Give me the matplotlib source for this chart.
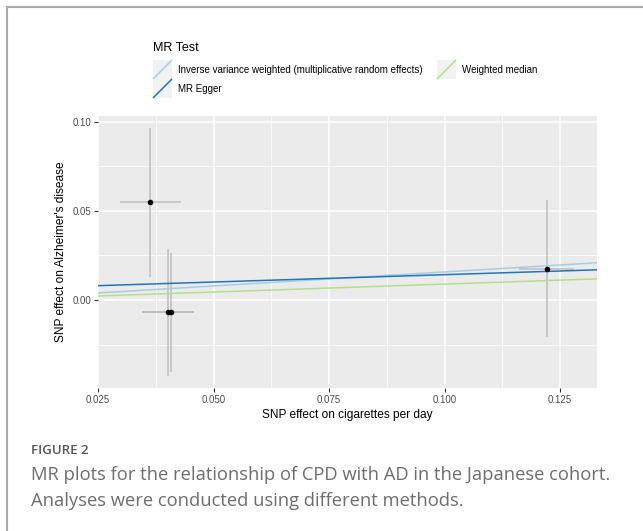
import matplotlib.pyplot as plt
import numpy as np
from matplotlib.lines import Line2D
from matplotlib.patches import Rectangle

# SNP-level estimates (exposure: cigarettes per day, outcome: AD)
snp_beta_exp = [0.0363, 0.0401, 0.0407, 0.1221]
snp_se_exp_lo = [0.0298, 0.0346, 0.0346, 0.1161]
snp_se_exp_hi = [0.0429, 0.0458, 0.0458, 0.1280]
snp_beta_out = [0.0547, -0.0068, -0.0068, 0.0176]
snp_out_lo = [0.0131, -0.0427, -0.0406, -0.0206]
snp_out_hi = [0.0965, 0.0285, 0.0262, 0.0558]

# MR method fits
methods = ["Inverse variance weighted (multiplicative random effects)",
           "MR Egger", "Weighted median"]
method_slope = [0.157, 0.0824, 0.089]
method_intercept = [0.0, 0.00594, 0.0]
method_colors = ["#a6cee3", "#1f78b4", "#b2df8a"]

x_ticks = [0.025, 0.050, 0.075, 0.100, 0.125]
y_ticks = [0.00, 0.05, 0.10]

W, H = 643, 531
fig = plt.figure(figsize=(W / 100, H / 100), dpi=100)
plt.rcParams['font.family'] = ['Liberation Sans', 'DejaVu Sans']

def fx(px):
    return px / W

def fy(py):
    return 1 - py / H

ax = fig.add_axes([fx(98), fy(388), fx(597) - fx(98), fy(116) - fy(388)])
ax.set_facecolor("#ebebeb")
for s in ax.spines.values():
    s.set_visible(False)

xlim = (0.025, 0.1330)
ylim = (-0.0494, 0.1032)
ax.set_xlim(*xlim)
ax.set_ylim(*ylim)

# grid
for v in [0.0375, 0.0625, 0.0875, 0.1125]:
    ax.axvline(v, color="white", lw=0.55, zorder=0)
for v in [-0.025, 0.025, 0.075]:
    ax.axhline(v, color="white", lw=0.55, zorder=0)
for v in x_ticks:
    ax.axvline(v, color="white", lw=1.1, zorder=0)
for v in y_ticks:
    ax.axhline(v, color="white", lw=1.1, zorder=0)

# error bars
for i in range(len(snp_beta_exp)):
    ax.plot([snp_beta_exp[i], snp_beta_exp[i]], [snp_out_lo[i], snp_out_hi[i]],
            color="#bebebe", lw=1.1, zorder=2, solid_capstyle="butt")
    ax.plot([snp_se_exp_lo[i], snp_se_exp_hi[i]], [snp_beta_out[i], snp_beta_out[i]],
            color="#bebebe", lw=1.1, zorder=2, solid_capstyle="butt")

# method lines
xs = np.array(xlim)
for slope, icpt, col in zip(method_slope, method_intercept, method_colors):
    ax.plot(xs, icpt + slope * xs, color=col, lw=1.1, zorder=3)

ax.scatter(snp_beta_exp, snp_beta_out, s=16, color="black", zorder=4, linewidths=0)

ax.set_xticks(x_ticks)
ax.set_xticklabels(["0.025", "0.050", "0.075", "0.100", "0.125"])
ax.set_yticks(y_ticks)
ax.set_yticklabels(["0.00", "0.05", "0.10"])
ax.tick_params(colors="#333333", labelcolor="#4d4d4d", labelsize=7, length=3, width=0.8, pad=2)
ax.set_xlabel("SNP effect on cigarettes per day", fontsize=8.6, labelpad=3)
ax.set_ylabel("SNP effect on Alzheimer's disease", fontsize=8.6, labelpad=4)

# legend drawn by hand (ggplot-style keys)
fig.text(fx(153), fy(48), "MR Test", fontsize=9, va="center", ha="left")
key_pos = [(153, 60), (153, 79), (437, 60)]
txt_pos = [(178, 70), (178, 89), (462, 70)]
for (kx, ky), (tx, ty), name, col in zip(key_pos, txt_pos, methods, method_colors):
    fig.add_artist(Rectangle((fx(kx), fy(ky + 19)), fx(19), 19 / H,
                             facecolor="#f2f2f2", edgecolor="none"))
    fig.add_artist(Line2D([fx(kx + 0.5), fx(kx + 18.5)], [fy(ky + 18.5), fy(ky + 0.5)],
                          color=col, lw=1.1))
    fig.text(fx(tx), fy(ty), name, fontsize=7.0, va="center", ha="left")

# figure frame (top and left rule)
fig.add_artist(Line2D([fx(6.5), 1], [fy(6.5), fy(6.5)], color="#aaaaaa", lw=1.5))
fig.add_artist(Line2D([fx(6.5), fx(6.5)], [fy(6.5), 0], color="#aaaaaa", lw=1.5))

# caption
fig.text(fx(31), fy(450), "FIGURE 2", fontsize=9.5, color="#555555",
         family=["Open Sans", "DejaVu Sans"], weight="semibold", va="center")
fig.text(fx(31), fy(475), "MR plots for the relationship of CPD with AD in the Japanese cohort.",
         fontsize=13.2, color="#6e6e6e", family=["Open Sans", "DejaVu Sans"], va="center")
fig.text(fx(31), fy(501), "Analyses were conducted using different methods.",
         fontsize=13.2, color="#6e6e6e", family=["Open Sans", "DejaVu Sans"], va="center")

fig.savefig("out.png", dpi=100)
